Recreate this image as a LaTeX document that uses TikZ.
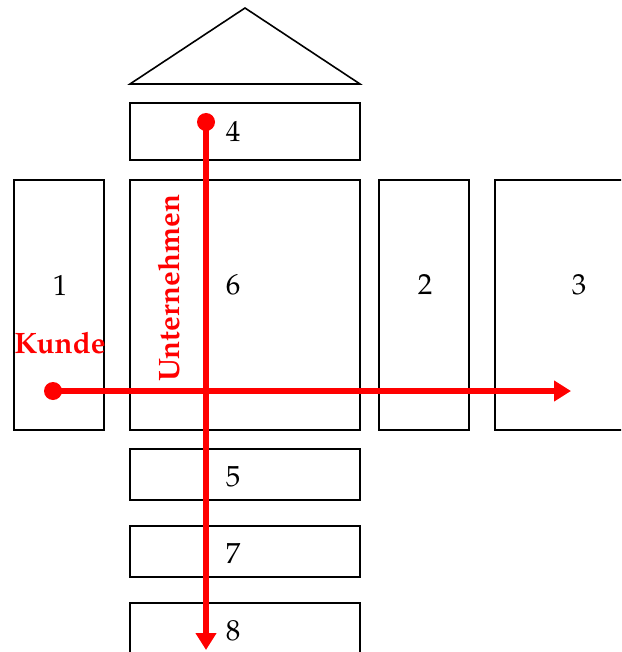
\documentclass[tikz,border=0pt]{standalone}
\usepackage{fontspec}
\setmainfont{TeX Gyre Pagella}
\usetikzlibrary{arrows.meta}
\definecolor{flow}{RGB}{255,0,0}
\tikzset{
  block/.style={draw=black, line width=1.6pt},
  num/.style={font=\fontsize{29}{34}\selectfont, inner sep=0pt},
  tag/.style={font=\fontsize{29.5}{34}\selectfont\bfseries, text=flow, inner sep=0pt},
  flowline/.style={draw=flow, line width=5.5pt, -{Triangle[length=17pt,width=20pt]}},
  flowdot/.style={circle, fill=flow, minimum size=18pt, inner sep=0pt}
}
\begin{document}
\begin{tikzpicture}[x=1pt, y=-1pt]
  \useasboundingbox (0,0) rectangle (621,652);
  \clip (0,0) rectangle (621,652);
  % roof
  \draw[block, line join=miter] (130,84) -- (245,8) -- (360,84) -- cycle;
  % building blocks
  \draw[block] (130,103) rectangle (360,160);
  \draw[block] (14,180) rectangle (104,430);
  \draw[block] (130,180) rectangle (360,430);
  \draw[block] (379,180) rectangle (469,430);
  \draw[block] (495,180) rectangle (640,430);
  \draw[block] (130,449) rectangle (360,500);
  \draw[block] (130,526) rectangle (360,577);
  \draw[block] (130,603) rectangle (360,670);
  % numbers
  \node[num] (n4) at (233,131) {4};
  \node[num] (n1) at (60,285) {1};
  \node[num] (n6) at (233,285) {6};
  \node[num] (n2) at (425,285) {2};
  \node[num] (n3) at (579,285) {3};
  \node[num] (n5) at (233,477) {5};
  \node[num] (n7) at (233,554) {7};
  \node[num] (n8) at (233,631) {8};
  % labels
  \node[tag, anchor=base] (kunde) at (60,353) {Kunde};
  \node[tag, rotate=90, anchor=base] (unt) at (179,288) {Unternehmen};
  % flows
  \node[flowdot] (top) at (206,122) {};
  \node[flowdot] (left) at (53,391) {};
  \coordinate (bottom) at (206,650);
  \coordinate (right) at (571,391);
  \draw[flowline] (top.center) -- (bottom);
  \draw[flowline] (left.center) -- (right);
\end{tikzpicture}
\end{document}
